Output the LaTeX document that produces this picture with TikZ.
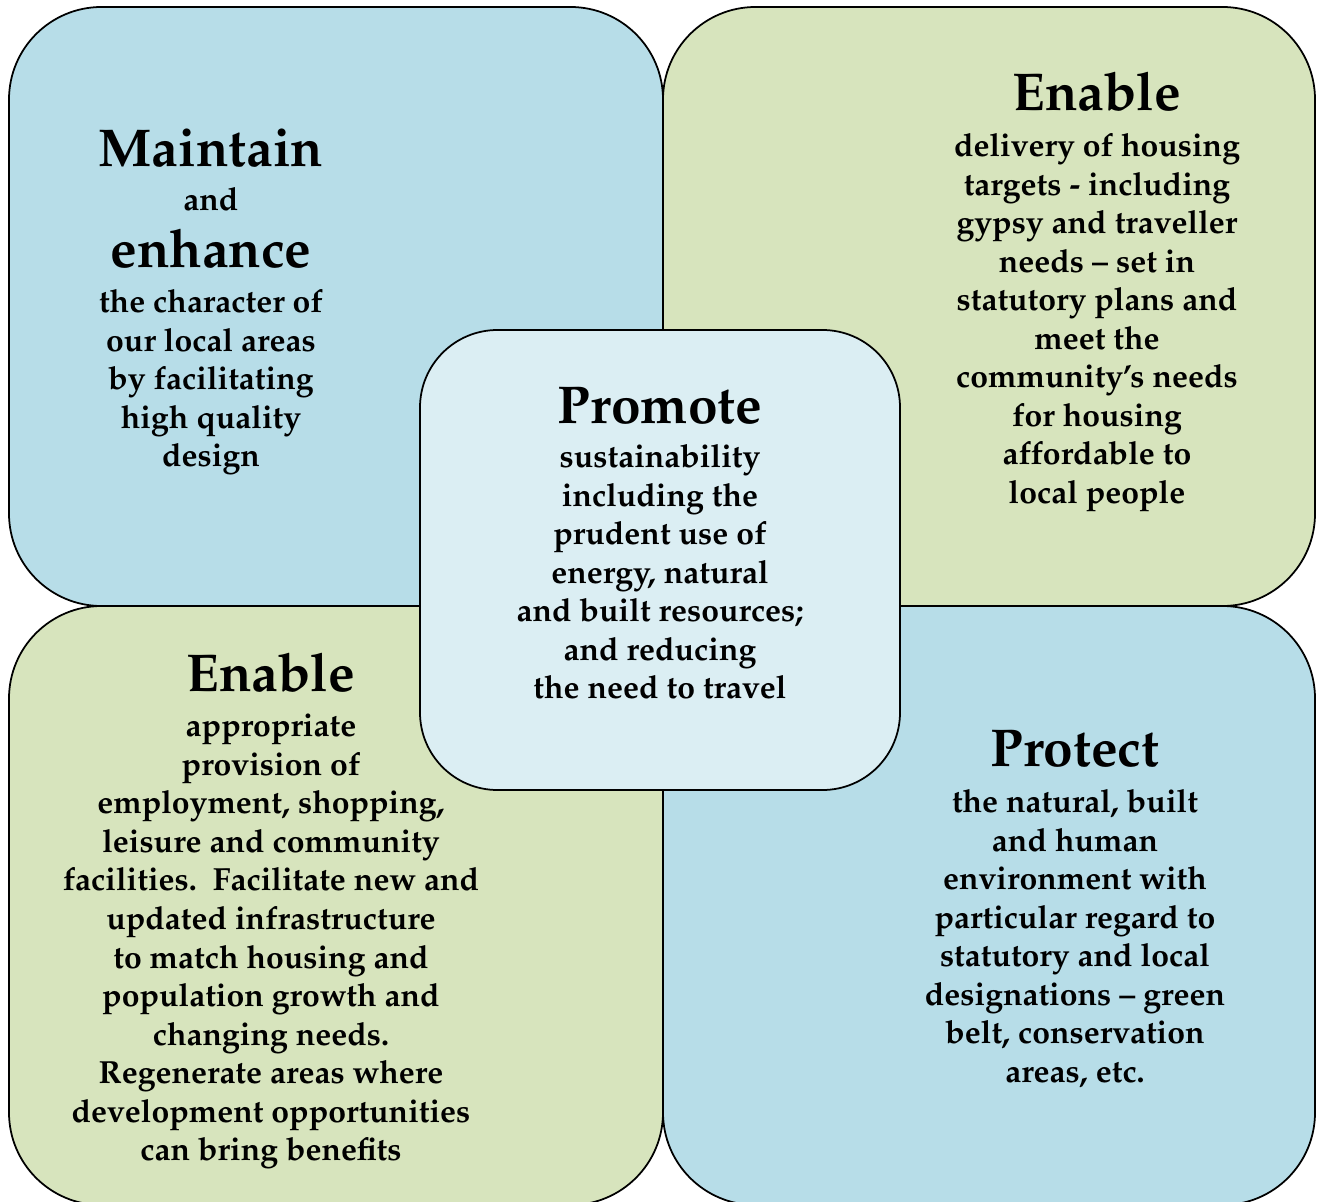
\documentclass[tikz,border=0pt]{standalone}
\usepackage[T1]{fontenc}
\usepackage{mathpazo}
\usepackage{tikz}
\definecolor{qblue}{HTML}{B7DDE8}
\definecolor{qgreen}{HTML}{D7E4BD}
\definecolor{cblue}{HTML}{DBEEF3}

\begin{document}
\begin{tikzpicture}[x=0.02cm,y=-0.02cm,
  quad/.style={draw=black,line width=1pt,rounded corners=1.85cm},
  mid/.style={draw=black,line width=1pt,rounded corners=1.55cm},
  ttl/.style={anchor=base,inner sep=0pt,font=\fontsize{30.3}{35}\selectfont\bfseries},
  word/.style={anchor=base,inner sep=0pt,font=\fontsize{18.2}{21.94}\selectfont\bfseries},
  txt/.style={anchor=north,inner sep=0pt,align=center,
    font=\fontsize{18.2}{21.94}\selectfont\bfseries,execute at begin node=\strut}]
  \clip (0,0) rectangle (1317,1202);
  % four quarters
  \path[quad,fill=qblue] (9,7) rectangle (663,606);
  \path[quad,fill=qgreen] (663,7) rectangle (1315,606);
  \path[quad,fill=qgreen] (9,606) rectangle (663,1205);
  \path[quad,fill=qblue] (663,606) rectangle (1315,1205);
  % centre
  \path[mid,fill=cblue] (420,330) rectangle (900,790);

  \node[ttl] (maintain) at (211,167) {Maintain};
  \node[word] (and) at (211,211) {and};
  \node[ttl] (enhance) at (211,268) {enhance};
  \node[txt] (maintaintxt) at (211,289) {the character of\\ our local areas\\ by facilitating\\ high quality\\ design};

  \node[ttl] (enable) at (1097,111) {Enable};
  \node[txt] (enabletxt) at (1097,133) {delivery of housing\\ targets - including\\ gypsy and traveller\\ needs -- set in\\ statutory plans and\\ meet the\\ community's needs\\ for housing\\ affordable to\\ local people};

  \node[ttl] (promote) at (660,423) {Promote};
  \node[txt] (promotetxt) at (660,444) {sustainability\\ including the\\ prudent use of\\ energy, natural\\ and built resources;\\ and reducing\\ the need to travel};

  \node[ttl] (enable2) at (271,691) {Enable};
  \node[txt] (enable2txt) at (271,714) {appropriate\\ provision of\\ employment, shopping,\\ leisure and community\\ facilities.\ \ Facilitate new and\\ updated infrastructure\\ to match housing and\\ population growth and\\ changing needs.\\ Regenerate areas where\\ development opportunities\\ can bring benefits};

  \node[ttl] (protect) at (1075,766) {Protect};
  \node[txt] (protecttxt) at (1075,789) {the natural, built\\ and human\\ environment with\\ particular regard to\\ statutory and local\\ designations -- green\\ belt, conservation\\ areas, etc.};
\end{tikzpicture}
\end{document}
